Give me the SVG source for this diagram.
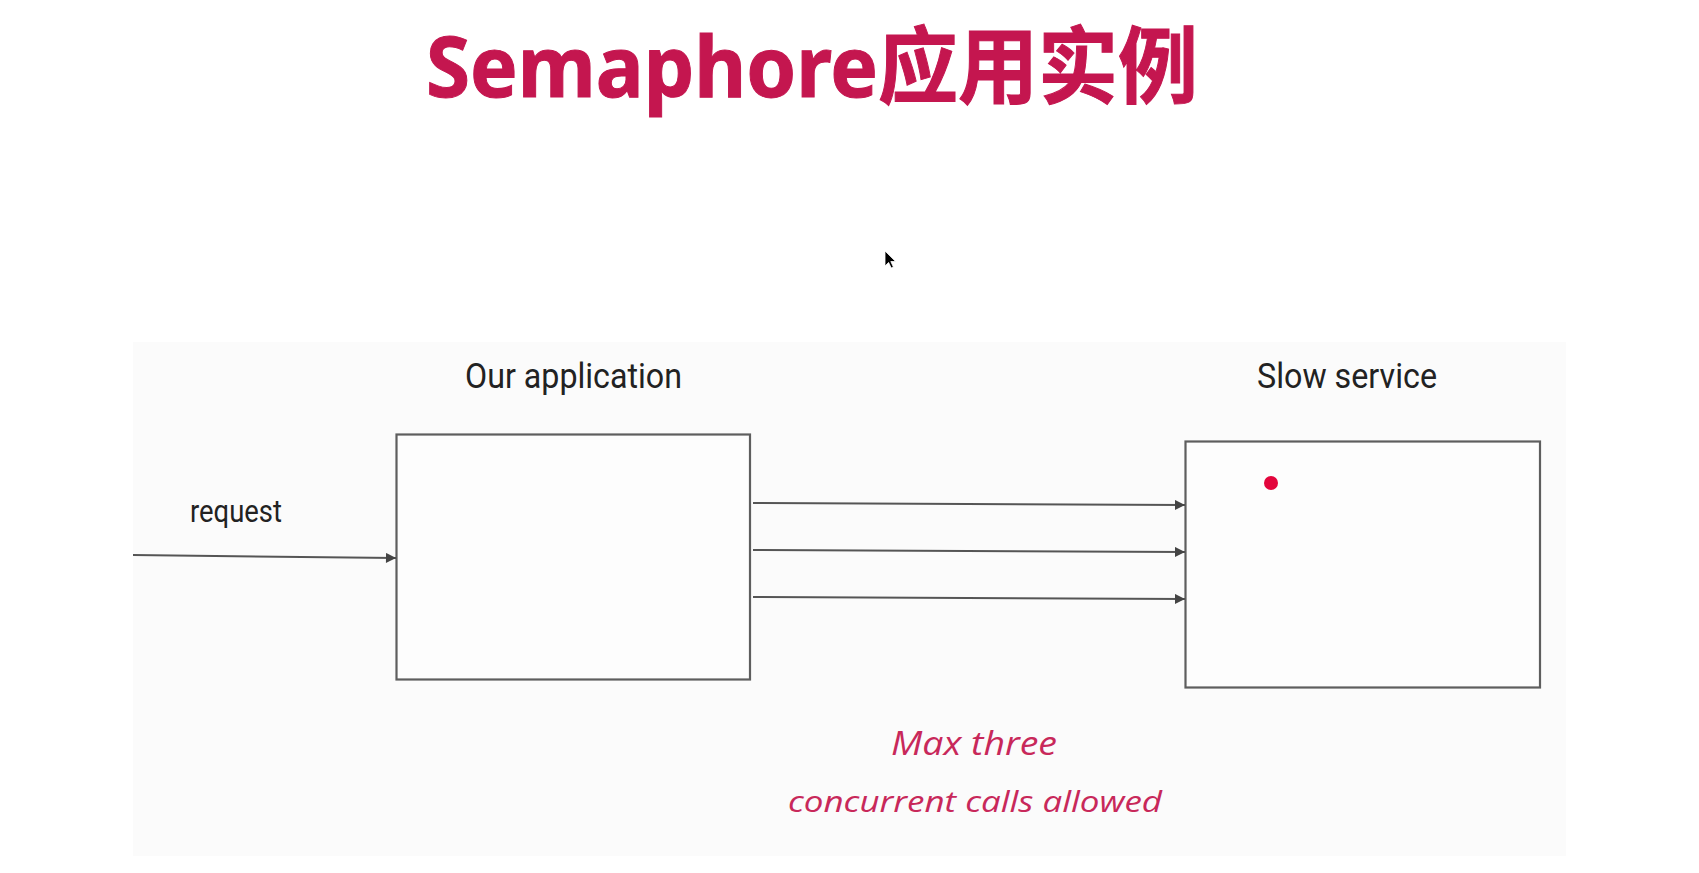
<svg xmlns="http://www.w3.org/2000/svg" width="1699" height="873" viewBox="0 0 1699 873">
  <style>
    .title { font-family: "Noto Sans", "Noto Sans CJK SC", sans-serif; font-weight: bold; font-size: 84px; fill: #C4164F; stroke: #C4164F; stroke-width: 1; }
    .label { font-family: Roboto, "Liberation Sans", sans-serif; fill: #222222; }
    .hand { font-family: "Open Sans", "Noto Sans", sans-serif; font-style: italic; font-weight: 400; fill: #C8285A; }
    .box { fill: #FDFDFD; stroke: #5E5E5E; stroke-width: 2.2; }
    .conn { stroke: #555555; stroke-width: 2; fill: none; marker-end: url(#arrow); }
  </style>
  <defs>
    <marker id="arrow" viewBox="0 0 10 10" refX="10" refY="5" markerWidth="5.5" markerHeight="5" markerUnits="strokeWidth" orient="auto">
      <path d="M0,0 L10,5 L0,10 z" fill="#444444"/>
    </marker>
  </defs>

  <rect x="0" y="0" width="1699" height="873" fill="#FFFFFF"/>
  <rect id="panel" x="133" y="342" width="1433" height="514" fill="#FBFBFB"/>

  <g id="title">
    <text class="title" x="426" y="97" textLength="772" lengthAdjust="spacingAndGlyphs">Semaphore应用实例</text>
  </g>

  <g id="cursor">
    <polygon points="885,251 885,266 888.6,262.4 891.2,268 893.4,267 890.8,261.5 895.6,261.5" fill="#000000" stroke="#FFFFFF" stroke-width="0.8"/>
  </g>

  <g id="our-application">
    <text class="label" x="465" y="388" font-size="35" textLength="217" lengthAdjust="spacingAndGlyphs">Our application</text>
    <rect class="box" x="396.5" y="434.5" width="353.5" height="245"/>
  </g>

  <g id="slow-service">
    <text class="label" x="1257" y="388" font-size="35" textLength="180" lengthAdjust="spacingAndGlyphs">Slow service</text>
    <rect class="box" x="1185.5" y="441.5" width="354.5" height="246"/>
    <circle cx="1271" cy="483" r="7" fill="#E3053C"/>
  </g>

  <g id="request-label">
    <text class="label" x="190" y="522" font-size="31" textLength="92" lengthAdjust="spacingAndGlyphs">request</text>
  </g>

  <g id="note">
    <text class="hand" x="891" y="755" font-size="32" textLength="166" lengthAdjust="spacingAndGlyphs">Max three</text>
    <text class="hand" x="788" y="812" font-size="30" textLength="374" lengthAdjust="spacingAndGlyphs">concurrent calls allowed</text>
  </g>

  <g id="connectors">
    <line class="conn" x1="133" y1="555" x2="396" y2="558"/>
    <line class="conn" x1="753" y1="503" x2="1185" y2="505"/>
    <line class="conn" x1="753" y1="550" x2="1185" y2="552"/>
    <line class="conn" x1="753" y1="597" x2="1185" y2="599"/>
  </g>
</svg>
